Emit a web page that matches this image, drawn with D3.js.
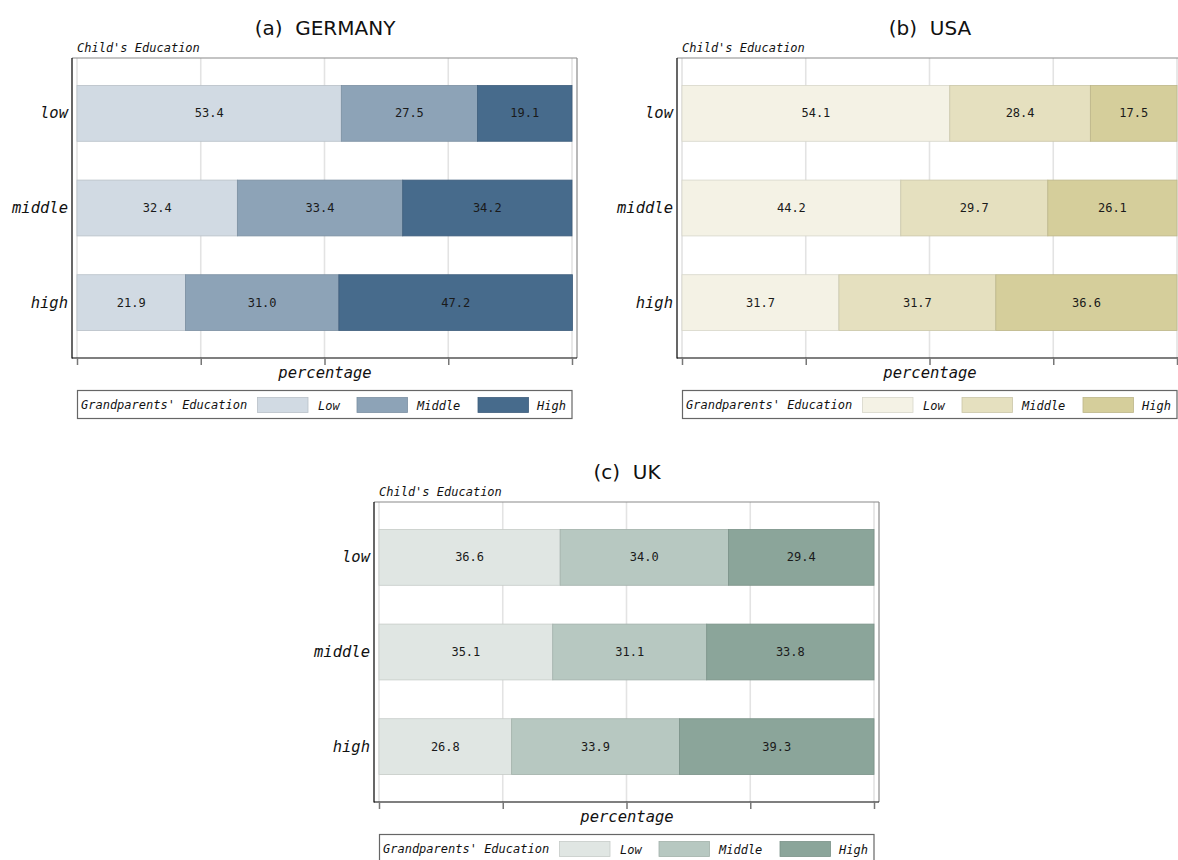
<!DOCTYPE html>
<html>
<head>
<meta charset="utf-8">
<script src="https://cdn.jsdelivr.net/npm/d3@7"></script>
<style>
  html, body { margin: 0; padding: 0; background: #fff; }
  svg { display: block; }
</style>
</head>
<body>
<svg id="chart" width="1178" height="860"></svg>
<script>
// Child's education (rows) by grandparents' education (stacked segments), in percent
const childEducation = ["low", "middle", "high"];
const grandparentEducation = ["Low", "Middle", "High"];
const germanyShares = [[53.4, 27.5, 19.1], [32.4, 33.4, 34.2], [21.9, 31.0, 47.2]];
const usaShares     = [[54.1, 28.4, 17.5], [44.2, 29.7, 26.1], [31.7, 31.7, 36.6]];
const ukShares      = [[36.6, 34.0, 29.4], [35.1, 31.1, 33.8], [26.8, 33.9, 39.3]];
const percentTicks  = [0, 25, 50, 75, 100];
const panelTitles   = ["(a)  GERMANY", "(b)  USA", "(c)  UK"];

const palettes = [
  ["#d1dae3", "#8da3b7", "#476b8c"],
  ["#f4f2e5", "#e5e0bf", "#d5ce9b"],
  ["#e0e6e3", "#b7c8c1", "#8ba59a"]
];

const panels = [
  { title: panelTitles[0], shares: germanyShares, colors: palettes[0], dx: 0,   dy: 0 },
  { title: panelTitles[1], shares: usaShares,     colors: palettes[1], dx: 605, dy: 0 },
  { title: panelTitles[2], shares: ukShares,      colors: palettes[2], dx: 302, dy: 444 }
];

const MONO = "'DejaVu Sans Mono', monospace";
const SANS = "'DejaVu Sans', sans-serif";
const svg = d3.select("#chart");

function drawPanel(p) {
  const g = svg.append("g").attr("transform", `translate(${p.dx},${p.dy})`);
  const plotTop = 58, plotBottom = 358, frameLeft = 72, frameRight = 577;

  const x = d3.scaleLinear().domain([0, 100]).range([77, 572]);
  const y = d3.scaleBand().domain(childEducation).range([plotTop, plotBottom])
    .paddingInner(0.41).paddingOuter(0.29);

  // title
  g.append("text").attr("x", 325).attr("y", 35).attr("text-anchor", "middle")
    .attr("font-family", SANS).attr("font-size", 20).attr("fill", "#111")
    .style("white-space", "pre").text(p.title);

  // category axis title
  g.append("text").attr("x", 77).attr("y", 52).attr("font-family", MONO)
    .attr("font-style", "italic").attr("font-size", 12).attr("fill", "#111")
    .text("Child's Education");

  // vertical gridlines
  g.selectAll("line.grid").data(percentTicks).join("line").attr("class", "grid")
    .attr("x1", d => x(d)).attr("x2", d => x(d))
    .attr("y1", plotTop).attr("y2", plotBottom)
    .attr("stroke", "#e3e3e3").attr("stroke-width", 1.6);

  // stacked bars
  childEducation.forEach((cat, i) => {
    let acc = 0;
    p.shares[i].forEach((v, j) => {
      const x0 = acc; acc += v;
      const fill = p.colors[j];
      g.append("rect")
        .attr("x", x(x0)).attr("y", y(cat))
        .attr("width", x(acc) - x(x0)).attr("height", y.bandwidth())
        .attr("fill", fill)
        .attr("stroke", d3.color(fill).darker(0.35)).attr("stroke-width", 0.8);
      g.append("text")
        .attr("x", (x(x0) + x(acc)) / 2).attr("y", y(cat) + y.bandwidth() / 2 + 4)
        .attr("text-anchor", "middle").attr("font-family", MONO).attr("font-size", 12)
        .attr("fill", "#1a1a1a").text(v.toFixed(1));
    });
    g.append("text").attr("x", 68).attr("y", y(cat) + y.bandwidth() / 2 + 5)
      .attr("text-anchor", "end").attr("font-family", MONO).attr("font-style", "italic")
      .attr("font-size", 15.5).attr("fill", "#111").text(cat);
  });

  // frame: top and right in grey, left and bottom in black
  g.append("line").attr("x1", frameLeft).attr("x2", frameRight).attr("y1", plotTop).attr("y2", plotTop)
    .attr("stroke", "#8a8a8a").attr("stroke-width", 1.2);
  g.append("line").attr("x1", frameRight).attr("x2", frameRight).attr("y1", plotTop).attr("y2", plotBottom)
    .attr("stroke", "#8a8a8a").attr("stroke-width", 1.2);
  g.append("line").attr("x1", frameLeft).attr("x2", frameLeft).attr("y1", plotTop).attr("y2", plotBottom + 0.5)
    .attr("stroke", "#000").attr("stroke-width", 1.2);

  // percentage axis: ticks only, no labels
  const axis = d3.axisBottom(x).tickValues(percentTicks).tickSize(7).tickFormat("");
  const ag = g.append("g").attr("transform", `translate(0,${plotBottom})`).call(axis);
  ag.select(".domain").attr("d", `M${frameLeft},0H${frameRight}`).attr("stroke", "#000").attr("stroke-width", 1.2);
  ag.selectAll(".tick line").attr("stroke", "#777").attr("stroke-width", 1.5);

  g.append("text").attr("x", 325).attr("y", 378).attr("text-anchor", "middle")
    .attr("font-family", MONO).attr("font-style", "italic").attr("font-size", 15.5)
    .attr("fill", "#111").text("percentage");

  // legend
  const lg = g.append("g");
  lg.append("rect").attr("x", 77.5).attr("y", 390.5).attr("width", 494.5).attr("height", 28)
    .attr("fill", "#fff").attr("stroke", "#666").attr("stroke-width", 1.2);
  lg.append("text").attr("x", 81).attr("y", 408.5).attr("font-family", MONO)
    .attr("font-style", "italic").attr("font-size", 12).attr("fill", "#111")
    .text("Grandparents' Education");
  const swatchX = [257.5, 357, 478];
  const labelX = [318, 417, 537];
  grandparentEducation.forEach((name, j) => {
    lg.append("rect").attr("x", swatchX[j]).attr("y", 397.5).attr("width", 50.5).attr("height", 15)
      .attr("fill", p.colors[j]).attr("stroke", d3.color(p.colors[j]).darker(0.35)).attr("stroke-width", 0.8);
    lg.append("text").attr("x", labelX[j]).attr("y", 410).attr("font-family", MONO)
      .attr("font-style", "italic").attr("font-size", 12).attr("fill", "#111").text(name);
  });
}

panels.forEach(drawPanel);
</script>
</body>
</html>
